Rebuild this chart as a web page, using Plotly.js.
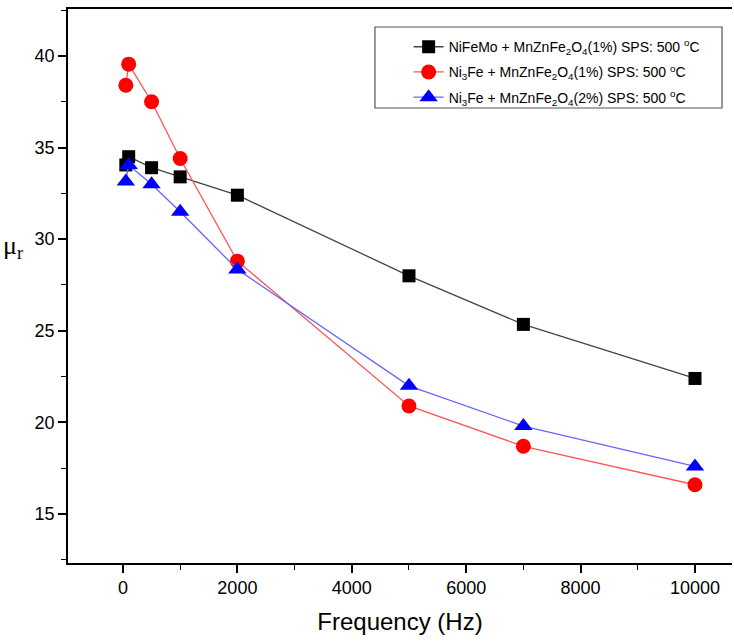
<!DOCTYPE html>
<html><head><meta charset="utf-8">
<script src="https://cdn.plot.ly/plotly-3.0.1.min.js"></script>
<style>html,body{margin:0;padding:0;background:#fff;}</style>
</head><body><div id="chart" style="width:734px;height:642px;"></div>
<script>
const freq = [50, 100, 500, 1000, 2000, 5000, 7000, 10000];
const niFeMo1 = [34.05, 34.5, 33.9, 33.4, 32.4, 28.0, 25.35, 22.4];
const ni3Fe1 = [38.4, 39.55, 37.5, 34.4, 28.8, 20.9, 18.7, 16.6];
const ni3Fe2 = [33.15, 34.05, 33.0, 31.5, 28.35, 22.0, 19.8, 17.6];
const xTicks = [0, 2000, 4000, 6000, 8000, 10000];
const yTicks = [15, 20, 25, 30, 35, 40];
const names = [
  'NiFeMo + MnZnFe<sub>2</sub>O<sub>4</sub>(1%) SPS: 500 <sup>o</sup>C',
  'Ni<sub>3</sub>Fe + MnZnFe<sub>2</sub>O<sub>4</sub>(1%) SPS: 500 <sup>o</sup>C',
  'Ni<sub>3</sub>Fe + MnZnFe<sub>2</sub>O<sub>4</sub>(2%) SPS: 500 <sup>o</sup>C'
];
const traces = [
  {x: freq, y: niFeMo1, name: names[0], mode: 'lines+markers', legendgroup: 'a',
   line: {color: '#444', width: 1.3}, marker: {symbol: 'square', size: 13, color: '#000'}},
  {x: freq, y: ni3Fe1, name: names[1], mode: 'lines+markers', legendgroup: 'b',
   line: {color: '#ff5555', width: 1.3}, marker: {symbol: 'circle', size: 15, color: '#ff0000'}},
  {x: freq, y: ni3Fe2, name: names[2], mode: 'lines+markers', legendgroup: 'c',
   line: {color: '#6666ff', width: 1.3}, marker: {symbol: 'triangle-up', size: 16, color: '#0000ff'}}
];
const layout = {
  width: 734, height: 642,
  margin: {l: 68, r: 2, t: 9, b: 79},
  paper_bgcolor: '#fff', plot_bgcolor: '#fff',
  font: {family: 'Liberation Sans, Arial, sans-serif', color: '#000'},
  showlegend: true,
  legend: {x: 0.513, y: 0.96, xanchor: 'left', yanchor: 'top',
    borderwidth: 0, bgcolor: 'rgba(0,0,0,0)',
    font: {size: 14, family: 'Liberation Sans, Arial, sans-serif'}, tracegroupgap: 4},
  shapes: [{type: 'rect', xref: 'paper', yref: 'paper', x0: 0.4623, x1: 0.985, y0: 0.8213, y1: 0.9675,
    line: {color: '#555', width: 1.2}, fillcolor: 'rgba(0,0,0,0)', layer: 'above'}],
  xaxis: {range: [-961, 10647], tickmode: 'array', tickvals: xTicks,
    ticktext: xTicks.map(String),
    ticks: 'outside', ticklen: 8, tickwidth: 1.5, tickcolor: '#000',
    minor: {tickvals: [1000,3000,5000,7000,9000], ticks: 'outside', ticklen: 5, tickwidth: 1.2, tickcolor: '#000', showgrid: false},
    showline: true, linecolor: '#000', linewidth: 1.5, mirror: true,
    showgrid: false, zeroline: false,
    tickfont: {size: 18},
    title: {text: 'Frequency (Hz)', font: {size: 24}, standoff: 16}},
  yaxis: {range: [12.33, 42.56], tickmode: 'array', tickvals: yTicks,
    ticktext: yTicks.map(String),
    ticks: 'outside', ticklen: 8, tickwidth: 1.5, tickcolor: '#000',
    minor: {tickvals: [12.5,17.5,22.5,27.5,32.5,37.5,42.5], ticks: 'outside', ticklen: 5, tickwidth: 1.2, tickcolor: '#000', showgrid: false},
    showline: true, linecolor: '#000', linewidth: 1.5,
    showgrid: false, zeroline: false,
    tickfont: {size: 18}},
  annotations: [{text: 'μ<sub>r</sub>', xref: 'paper', yref: 'paper', x: -0.083, y: 0.57,
    xanchor: 'center', yanchor: 'middle', showarrow: false,
    font: {size: 26, family: 'Liberation Serif, Times New Roman, serif'}}]
};
Plotly.newPlot('chart', traces, layout, {displayModeBar: false});
</script></body></html>
